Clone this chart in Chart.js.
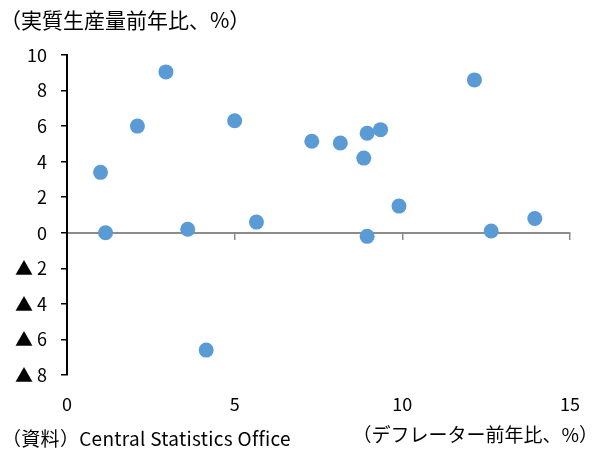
<!DOCTYPE html>
<html>
<head>
<meta charset="utf-8">
<script src="https://cdn.jsdelivr.net/npm/chart.js@4"></script>
<style>
  html, body { margin: 0; padding: 0; background: #fff; }
  #wrap { position: relative; width: 601px; height: 450px; font-family: "Noto Sans CJK JP", "Noto Sans", sans-serif; color: #000; }
  #chart { position: absolute; left: 0; top: 0; }
  .note { position: absolute; white-space: nowrap; line-height: 1; }
  #y-title { left: 0; top: 9px; font-size: 21px; }
  #source { left: 2px; top: 428px; font-size: 19px; letter-spacing: 0.3px; }
  #x-title { right: 3px; top: 424px; font-size: 19px; }
</style>
</head>
<body>
<div id="wrap">
  <canvas id="chart" width="601" height="450"></canvas>
  <div class="note" id="y-title">（実質生産量前年比、%）</div>
  <div class="note" id="source">（資料）Central Statistics Office</div>
  <div class="note" id="x-title">（デフレーター前年比、%）</div>
</div>
<script>
// deflator yoy (x) vs real output yoy (y), one point per observation
const deflator = [1.0, 1.15, 2.1, 2.95, 3.6, 4.15, 5.0, 5.65, 7.3, 8.15, 8.85, 8.95, 9.35, 8.95, 9.9, 12.15, 12.65, 13.95];
const realOutput = [3.4, 0.0, 6.0, 9.05, 0.2, -6.6, 6.3, 0.6, 5.15, 5.05, 4.2, 5.6, 5.8, -0.2, 1.5, 8.6, 0.1, 0.8];

const X_MIN = 0, X_MAX = 15, X_STEP = 5;
const Y_MIN = -8, Y_MAX = 10, Y_STEP = 2;

const POINT_COLOR = '#5B9BD5';
const FONT = { family: '"Noto Sans CJK JP", "Noto Sans", sans-serif', size: 18 };

// negative values are shown with a ▲ prefix instead of a minus sign
function yLabel(v) {
  return v < 0 ? '▲ ' + (-v) : String(v);
}

const points = deflator.map((x, i) => ({ x, y: realOutput[i] }));

new Chart(document.getElementById('chart'), {
  type: 'scatter',
  data: {
    datasets: [{
      data: points,
      xAxisID: 'x',
      yAxisID: 'y',
      backgroundColor: POINT_COLOR,
      borderColor: POINT_COLOR,
      borderWidth: 0,
      pointRadius: 7.5,
      pointHoverRadius: 7.5
    }]
  },
  options: {
    responsive: false,
    animation: false,
    events: [],
    layout: { padding: { top: 55, right: 31, bottom: 0, left: 0 } },
    plugins: { legend: { display: false }, tooltip: { enabled: false } },
    scales: {
      x: {
        type: 'linear', position: 'bottom',
        min: X_MIN, max: X_MAX,
        ticks: { stepSize: X_STEP, color: '#000', font: FONT, padding: 18, maxRotation: 0 },
        grid: { display: false, drawTicks: false },
        border: { display: false },
        afterFit: s => { s.height = 75; }
      },
      // zero line with its tick marks
      x0: {
        type: 'linear', position: { y: 0 },
        min: X_MIN, max: X_MAX,
        ticks: { stepSize: X_STEP, display: false },
        grid: { drawOnChartArea: false, drawTicks: true, tickLength: 6, color: '#8c8c8c', lineWidth: 1.5 },
        border: { display: true, color: '#8c8c8c', width: 2 }
      },
      y: {
        type: 'linear', position: 'left',
        min: Y_MIN, max: Y_MAX,
        ticks: { stepSize: Y_STEP, color: '#000', font: FONT, padding: 14, callback: yLabel },
        grid: { drawOnChartArea: false, drawTicks: true, tickLength: 6, color: '#000', lineWidth: 1.5 },
        border: { display: true, color: '#000', width: 2 },
        afterFit: s => { s.width = 67; }
      }
    }
  }
});
</script>
</body>
</html>
